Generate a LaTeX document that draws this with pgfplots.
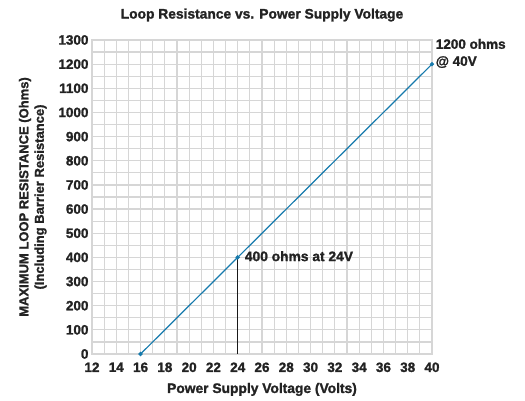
\documentclass[border=0pt]{standalone}
\usepackage{pgfplots}
\pgfplotsset{compat=1.18}
\usepackage{fontspec}
\setmainfont{Liberation Sans}[BoldFeatures={FakeBold=1.5}]
\definecolor{gridgray}{RGB}{214,214,214}
\definecolor{lineblue}{RGB}{22,122,172}
\definecolor{txt}{RGB}{35,35,35}
\begin{document}
\begin{tikzpicture}
\useasboundingbox (-92pt,-47pt) rectangle (433pt,354pt);
\begin{axis}[
  at={(0,0)}, anchor=south west,
  scale only axis, width=340pt, height=314pt,
  xmin=12, xmax=40, ymin=0, ymax=1300,
  xtick={12,14,...,40}, ytick={0,100,...,1300},
  minor xtick={13,15,...,39}, minor ytick={50,150,...,1250},
  grid=both,
  major grid style={gridgray, line width=1.2pt},
  minor grid style={gridgray, line width=1.2pt},
  axis line style={gridgray, line width=1.2pt},
  major tick length=0pt, minor tick length=0pt,
  tick style={draw=none},
  /pgf/number format/assume math mode=true,
  /pgf/number format/1000 sep={},
  ticklabel style={font=\fontsize{13.5}{15}\selectfont\bfseries, text=txt},
  xticklabel style={yshift=-5pt},
  yticklabel style={xshift=0pt},
  xlabel={Power Supply Voltage (Volts)},
  xlabel style={font=\fontsize{13.8}{15}\selectfont\bfseries, text=txt, yshift=-4pt},
  ylabel={MAXIMUM LOOP RESISTANCE (Ohms)\\(Including Barrier Resistance)},
  ylabel style={font=\fontsize{13}{15.5}\selectfont\bfseries, text=txt, align=center, yshift=5pt},
  title={Loop Resistance vs. Power Supply Voltage},
  title style={font=\fontsize{13.8}{15}\selectfont\bfseries, text=txt, yshift=9pt},
  clip=false,
]
\addplot[black!90, line width=1.3pt] coordinates {(24,0) (24,400)};
\addplot[lineblue, line width=1.2pt, mark=*, mark size=1.5pt] coordinates {(16,0) (24,400) (40,1200)};
\node[anchor=west, font=\fontsize{13.8}{15}\selectfont\bfseries, text=txt] at (axis cs:24.3,405) {400 ohms at 24V};
\node[anchor=north west, align=left, font=\fontsize{13.5}{17}\selectfont\bfseries, text=txt, inner sep=0pt] at (axis cs:40.3,1305) {1200 ohms\\@ 40V};
\end{axis}
\end{tikzpicture}
\end{document}
